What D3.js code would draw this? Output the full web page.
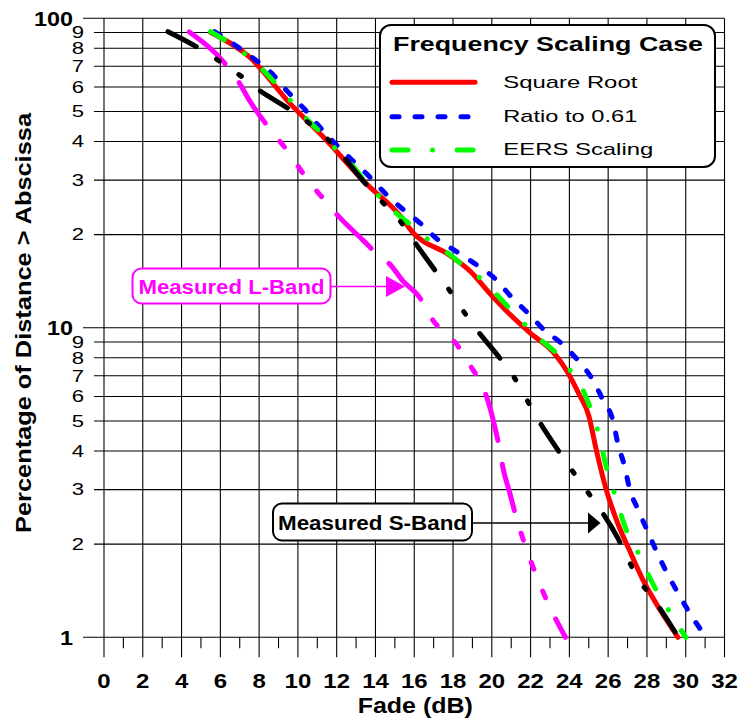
<!DOCTYPE html>
<html><head><meta charset="utf-8">
<script src="https://cdn.jsdelivr.net/npm/d3@7"></script>
<style>html,body{margin:0;padding:0;background:#fff;} svg{display:block;}</style>
</head><body>
<svg id="chart" width="740" height="721"></svg>
<script>
// ---------------- DATA ----------------
const fadeTicks = [0,2,4,6,8,10,12,14,16,18,20,22,24,26,28,30,32];
const fadeMinorTicks = [1,3,5,7,9,11,13,15,17,19,21,23,25,27,29,31];
const pctTicks = [1,2,3,4,5,6,7,8,9,10,20,30,40,50,60,70,80,90,100];
const pctTickLabels = ["1","2","3","4","5","6","7","8","9","10","2","3","4","5","6","7","8","9","100"];
const pctMajor = [1,10,100];

const legendTitle = "Frequency Scaling Case";
const legendLabels = ["Square Root","Ratio to 0.61","EERS Scaling"];
const xTitle = "Fade (dB)";
const yTitle = "Percentage of Distance > Abscissa";
const calloutL = "Measured L-Band";
const calloutS = "Measured S-Band";

// [fade dB, percentage]
const squareRoot = [[5.5,90],[7.5,75],[9.6,53],[11.3,41.4],[13.5,29.3],[15.3,22.9],[15.9,20.4],[17.8,17.2],[18.9,15.2],[19.9,12.9],[20.9,11.1],[22.0,9.6],[23.2,8.3],[23.9,7.2],[24.5,6.1],[25.0,5.2],[25.4,4.0],[25.9,3.0],[26.5,2.33],[27.1,1.91],[27.8,1.53],[28.7,1.22],[29.6,1.0]];
const ratio061 = [[5.7,90.5],[6.75,82],[7.7,74.3],[8.65,66.4],[9.4,58.6],[10.3,51.2],[11.1,44.7],[11.9,39.5],[12.8,34.8],[13.6,31.2],[14.5,27.2],[15.4,24.2],[16.3,21.8],[17.2,19.3],[18.2,17.6],[19.2,16.0],[20.15,14.45],[21.0,12.6],[21.9,11.1],[22.7,9.84],[23.6,8.9],[24.4,7.9],[25.2,6.8],[25.7,5.9],[26.25,5.0],[26.5,4.23],[26.85,3.56],[27.1,3.03],[27.55,2.58],[28.05,2.19],[28.5,1.89],[29.0,1.63],[29.6,1.39],[30.2,1.2],[31.05,1.0]];
const eersScaling = [[5.5,90.5],[6.5,83],[7.35,76.1],[8.2,68.1],[9.0,60.1],[9.75,53.1],[10.6,46.3],[11.3,42],[12.0,37.5],[12.85,33.2],[13.55,29.3],[14.3,26.2],[15.1,23.4],[15.95,21.2],[16.8,19.1],[17.75,17.4],[18.6,15.75],[19.5,14.3],[20.35,12.6],[21.0,11.4],[21.8,10.1],[22.65,9.0],[23.4,8.2],[24.1,7.2],[24.8,6.1],[25.15,5.36],[25.5,4.56],[25.9,3.56],[26.35,2.88],[27.0,2.17],[27.6,1.85],[28.3,1.49],[29.2,1.2],[30.0,1.0]];
const measuredS = [[3.3,90.5],[5.0,79.4],[6.0,72.4],[7.1,64.8],[8.0,58.6],[9.6,50.6],[11.5,40.9],[12.4,35.3],[13.55,28.9],[14.4,25.3],[15.35,21.8],[15.95,19.2],[17.05,15.4],[17.75,13.4],[18.5,11.4],[19.2,9.9],[20.4,8.0],[21.1,7.0],[21.75,5.94],[22.3,5.16],[23.35,4.08],[24.0,3.56],[24.8,3.03],[25.5,2.64],[26.5,2.09],[27.0,1.8],[27.6,1.53],[28.3,1.34],[29.45,1.04]];
const measuredL = [[4.4,90.3],[6.45,68.8],[7.0,61.5],[7.5,54.3],[8.5,44.3],[9.5,37],[10.4,30.7],[11.45,25.5],[12.1,22.9],[13.35,19.2],[14.05,17.4],[14.8,15.9],[15.4,14.2],[16.25,12.6],[17.05,10.4],[17.5,9.7],[18.15,8.9],[18.5,8.26],[19.03,7.31],[19.38,6.75],[19.73,5.99],[20.07,5.04],[20.41,4.03],[20.58,3.52],[20.93,2.92],[21.3,2.39],[21.8,1.92],[22.35,1.55],[23.0,1.25],[23.8,1.0]];

// ---------------- CHART ----------------
const svg = d3.select("#chart");
const FONT = "Arial, 'Liberation Sans', Helvetica, sans-serif";
const x = d3.scaleLinear().domain([0,32]).range([104,724.5]);
const y = d3.scaleLog().domain([1,100]).range([637.3,18.3]);

const grid = svg.append("g");
pctTicks.forEach(v => {
  const major = pctMajor.includes(v);
  grid.append("line")
    .attr("x1", major ? 83 : 94).attr("x2", x(32))
    .attr("y1", y(v)).attr("y2", y(v))
    .attr("stroke", "#000").attr("stroke-width", 1.1);
});
fadeTicks.forEach(v => {
  grid.append("line")
    .attr("x1", x(v)).attr("x2", x(v))
    .attr("y1", y(100)).attr("y2", y(1) + 20)
    .attr("stroke", "#000").attr("stroke-width", 1.1);
});
fadeMinorTicks.forEach(v => {
  grid.append("line")
    .attr("x1", x(v)).attr("x2", x(v))
    .attr("y1", y(1)).attr("y2", y(1) + 11)
    .attr("stroke", "#000").attr("stroke-width", 1.1);
});

function stretchText(parent, px, py, str, opts) {
  const g = parent.append("g").attr("transform", `translate(${px},${py}) scale(${opts.sx || 1},1)`);
  return g.append("text")
    .attr("x", 0).attr("y", 0)
    .attr("text-anchor", opts.anchor || "middle")
    .attr("dy", opts.dy || 0)
    .attr("font-family", FONT)
    .attr("font-size", opts.size)
    .attr("font-weight", opts.weight || "normal")
    .attr("fill", opts.fill || "#000")
    .text(str);
}
fadeTicks.forEach(v => {
  stretchText(svg, x(v), 688, String(v), {size: 20, weight: "bold", sx: 1.2});
});
pctTicks.forEach((v, i) => {
  const major = pctMajor.includes(v);
  if (major) stretchText(svg, 73, y(v), pctTickLabels[i], {size: 20, weight: "bold", sx: 1.17, anchor: "end", dy: "0.36em"});
  else stretchText(svg, 84, y(v), pctTickLabels[i], {size: 16, weight: "normal", sx: 1.38, anchor: "end", dy: "0.36em"});
});

svg.append("text")
  .attr("x", (x(0) + x(32)) / 2 + 1).attr("y", 713)
  .attr("text-anchor", "middle")
  .attr("font-family", FONT).attr("font-size", 22).attr("font-weight", "bold")
  .attr("textLength", 115).attr("lengthAdjust", "spacingAndGlyphs")
  .text(xTitle);
svg.append("text")
  .attr("transform", "translate(31,323) rotate(-90)")
  .attr("text-anchor", "middle")
  .attr("font-family", FONT).attr("font-size", 22).attr("font-weight", "bold")
  .attr("textLength", 420).attr("lengthAdjust", "spacingAndGlyphs")
  .text(yTitle);

const line = d3.line().x(d => x(d[0])).y(d => y(d[1])).curve(d3.curveMonotoneX);
const series = [
  {data: squareRoot, color: "#ff0000", dash: null},
  {data: ratio061, color: "#0000ff", dash: "7,16"},
  {data: eersScaling, color: "#00ff00", dash: "16,24.5,0.1,24.5"},
  {data: measuredL, color: "#ff00ff", dash: "48,23.6,48,23.6,7.3,23.6,7.3,23.6,7.3,23.6"},
  {data: measuredS, color: "#000000", dash: "32,24,3,24,3,24"}
];
series.forEach(s => {
  svg.append("path")
    .attr("d", line(s.data))
    .attr("fill", "none")
    .attr("stroke", s.color)
    .attr("stroke-width", 5)
    .attr("stroke-linecap", "round")
    .attr("stroke-linejoin", "round")
    .attr("stroke-dasharray", s.dash);
});

function callout(bx, by, bw, bh, label, color, textLen, fontSize, baselineY, lineX1, lineX2, arrowBase, arrowTip, ay) {
  svg.append("line").attr("x1", lineX1).attr("x2", lineX2).attr("y1", ay).attr("y2", ay)
    .attr("stroke", color).attr("stroke-width", 1.6);
  svg.append("path")
    .attr("d", `M${arrowBase},${ay - 10.5}L${arrowTip},${ay}L${arrowBase},${ay + 10.5}Z`)
    .attr("fill", color);
  svg.append("rect").attr("x", bx).attr("y", by).attr("width", bw).attr("height", bh)
    .attr("rx", 9).attr("ry", 9)
    .attr("fill", "#fff").attr("stroke", color).attr("stroke-width", 2);
  svg.append("text").attr("x", bx + bw / 2).attr("y", baselineY)
    .attr("text-anchor", "middle")
    .attr("font-family", FONT).attr("font-size", fontSize).attr("font-weight", "bold")
    .attr("fill", color)
    .attr("textLength", textLen).attr("lengthAdjust", "spacingAndGlyphs")
    .text(label);
}
callout(132.5, 268.5, 198, 35, calloutL, "#ff00ff", 186, 21, 293.5, 331, 390, 386, 405, 286.5);
callout(273, 503.5, 199, 37, calloutS, "#000000", 189, 21, 529.5, 472, 592, 588, 600.5, 523);

const lg = svg.append("g");
lg.append("rect").attr("x", 380).attr("y", 25).attr("width", 335).attr("height", 142)
  .attr("rx", 11).attr("ry", 11)
  .attr("fill", "#fff").attr("stroke", "#000").attr("stroke-width", 2);
lg.append("text").attr("x", 548).attr("y", 50.7).attr("text-anchor", "middle")
  .attr("font-family", FONT).attr("font-size", 19.5).attr("font-weight", "bold")
  .attr("textLength", 310).attr("lengthAdjust", "spacingAndGlyphs")
  .text(legendTitle);
const legendY = [82.3, 116.7, 150];
const legendBase = [88.3, 121.9, 155.2];
const legendLen = [134, 134, 150];
legendLabels.forEach((lab, i) => {
  const s = series[i];
  lg.append("line").attr("x1", 392).attr("x2", 475).attr("y1", legendY[i]).attr("y2", legendY[i])
    .attr("stroke", s.color).attr("stroke-width", 5).attr("stroke-linecap", "round")
    .attr("stroke-dasharray", s.dash);
  lg.append("text").attr("x", 503.3).attr("y", legendBase[i])
    .attr("font-family", FONT).attr("font-size", 17)
    .attr("textLength", legendLen[i]).attr("lengthAdjust", "spacingAndGlyphs")
    .text(lab);
});
</script>
</body></html>
